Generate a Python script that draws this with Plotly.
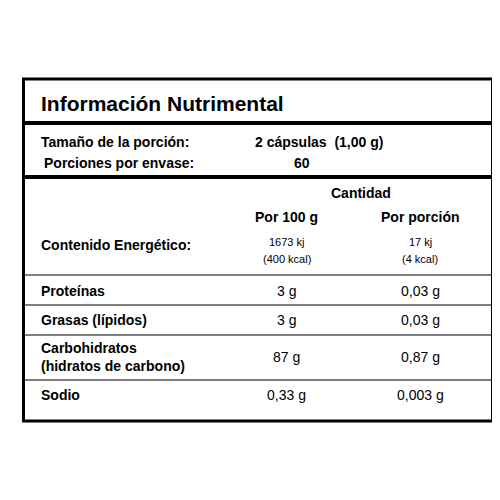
import plotly.graph_objects as go

title = "Información Nutrimental"
serving_labels = ["Tamaño de la porción:", "Porciones por envase:"]
serving_values = ["2 cápsulas  (1,00 g)", "60"]
col_header = "Cantidad"
col_names = ["Por 100 g", "Por porción"]
energy_label = "Contenido Energético:"
energy_100 = ["1673 kj", "(400 kcal)"]
energy_portion = ["17 kj", "(4 kcal)"]
nutrients = ["Proteínas", "Grasas (lípidos)", "Carbohidratos<br>(hidratos de carbono)", "Sodio"]
per100 = ["3 g", "3 g", "87 g", "0,33 g"]
per_portion = ["0,03 g", "0,03 g", "0,87 g", "0,003 g"]

F = "Liberation Sans, Arial, sans-serif"
fig = go.Figure()
fig.update_xaxes(range=[8, 492], visible=False)
fig.update_yaxes(range=[508, 8], visible=False)
shapes = []
def line(y, w):
    shapes.append(dict(type="line", x0=23, x1=477, y0=y, y1=y, line=dict(color="black", width=w)))
shapes.append(dict(type="rect", x0=23, x1=477, y0=79, y1=421, line=dict(color="black", width=3)))
line(123, 4); line(177, 4); line(275, 1); line(305, 1); line(335, 1); line(380, 1)
ann = []
def t(x, y, s, size=14, bold=True, anchor="left"):
    ann.append(dict(x=x, y=y, text=f"<b>{s}</b>" if bold else s, showarrow=False, align=anchor,
                    xanchor=anchor, yanchor="middle", font=dict(family=F, size=size, color="black")))
t(38, 103, title, 21)
t(38, 142, serving_labels[0]); t(245, 142, serving_values[0])
t(41, 163, serving_labels[1]); t(283, 163, serving_values[1])
t(350, 193, col_header, anchor="center")
t(278, 217, col_names[0], anchor="center"); t(407, 217, col_names[1], anchor="center")
t(38, 245, energy_label)
t(278, 242, energy_100[0], 11, False, "center"); t(278, 259, energy_100[1], 11, False, "center")
t(407, 242, energy_portion[0], 11, False, "center"); t(407, 259, energy_portion[1], 11, False, "center")
ys = [291, 320, 357, 395]
for n, a, b, y in zip(nutrients, per100, per_portion, ys):
    t(38, y, n)
    t(278, y, a, 14, False, "center"); t(407, y, b, 14, False, "center")
fig.update_layout(width=500, height=500, margin=dict(l=0, r=0, t=0, b=0),
                  plot_bgcolor="white", paper_bgcolor="white", shapes=shapes, annotations=ann)
fig.write_html("out.html")
